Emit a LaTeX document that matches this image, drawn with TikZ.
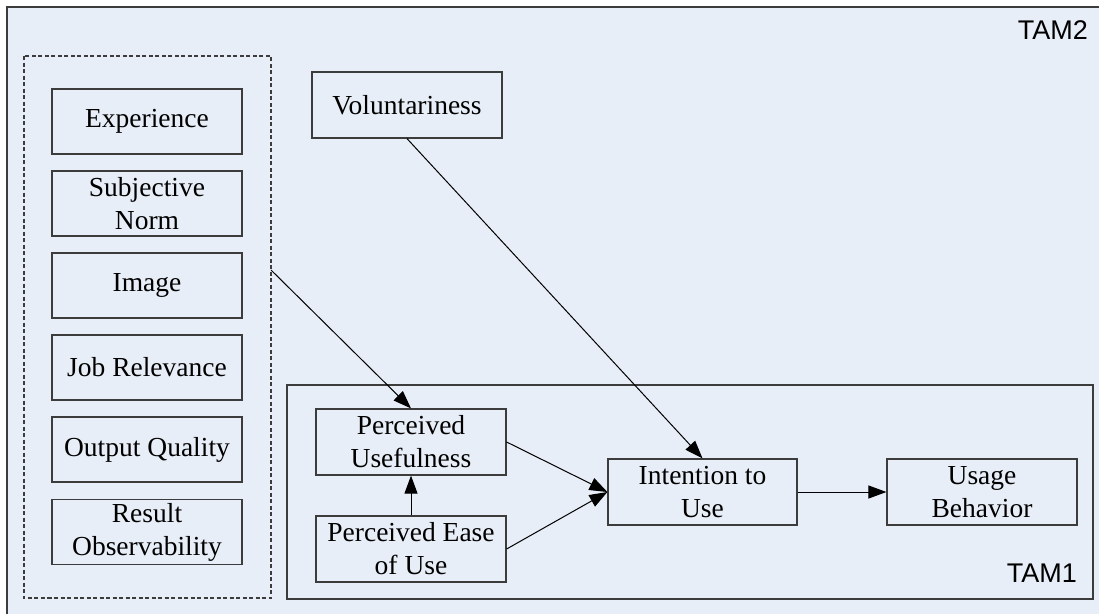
\documentclass[tikz,border=0pt]{standalone}
\usepackage{fontspec}
\setmainfont{Liberation Serif}
\newfontfamily\tamfont{Liberation Sans}
\usetikzlibrary{arrows.meta}
\definecolor{bgfill}{RGB}{232,238,247}
\definecolor{edge}{RGB}{60,60,60}
\tikzset{
  boxnode/.style={draw=edge, line width=1.2pt, minimum width=190pt, minimum height=65pt,
    inner sep=0pt, align=center, font=\fontsize{27.5}{33}\selectfont},
  conn/.style={draw=black, line width=1pt, -{Triangle[length=18pt,width=13pt]}},
  tamlabel/.style={font=\tamfont\fontsize{27}{32}\selectfont, inner sep=0pt}
}
\begin{document}
\begin{tikzpicture}[x=1pt,y=-1pt]
\useasboundingbox (0,0) rectangle (1099,613);
\fill[white] (0,0) rectangle (1099,613);
% outer TAM2 frame
\draw[edge, fill=bgfill, line width=1.3pt] (7,7) rectangle (1120,640);
\node[tamlabel, anchor=base east] (tam2) at (1088,39) {TAM2};
% dashed group
\draw[edge, line width=1.2pt, dash pattern=on 4pt off 2.5pt] (24,56) rectangle (271,598);
\coordinate (grp) at (271,270);
% TAM1 frame
\draw[edge, line width=1.3pt] (287,385) rectangle (1093,599);
\node[tamlabel, anchor=base east] (tam1) at (1077,582) {TAM1};
% left factors
\node[boxnode] (exp) at (147,121.5) {Experience};
\node[boxnode] (sn) at (147,203.5) {Subjective\\Norm};
\node[boxnode] (img) at (147,285.5) {Image};
\node[boxnode] (jr) at (147,367.5) {Job Relevance};
\node[boxnode] (oq) at (147,449.5) {Output Quality};
\node[boxnode] (ro) at (147,532) {Result\\Observability};
% others
\node[boxnode, minimum height=66pt] (vol) at (407,105) {Voluntariness};
\node[boxnode, minimum height=66pt] (pu) at (411,442) {Perceived\\Usefulness};
\node[boxnode, minimum height=66pt] (peou) at (411,549) {Perceived Ease\\of Use};
\node[boxnode, minimum height=66pt, minimum width=189pt] (itu) at (702.5,492) {Intention to\\Use};
\node[boxnode, minimum height=66pt] (ub) at (982,492) {Usage\\Behavior};
% connectors
\draw[conn] (grp) -- (pu.north);
\draw[conn] (vol.south) -- (itu.north);
\draw[conn] (pu.east) -- (itu.west);
\draw[conn] (peou.east) -- (itu.west);
\draw[conn] (peou.north) -- (pu.south);
\draw[conn] (itu.east) -- (ub.west);
\end{tikzpicture}
\end{document}
